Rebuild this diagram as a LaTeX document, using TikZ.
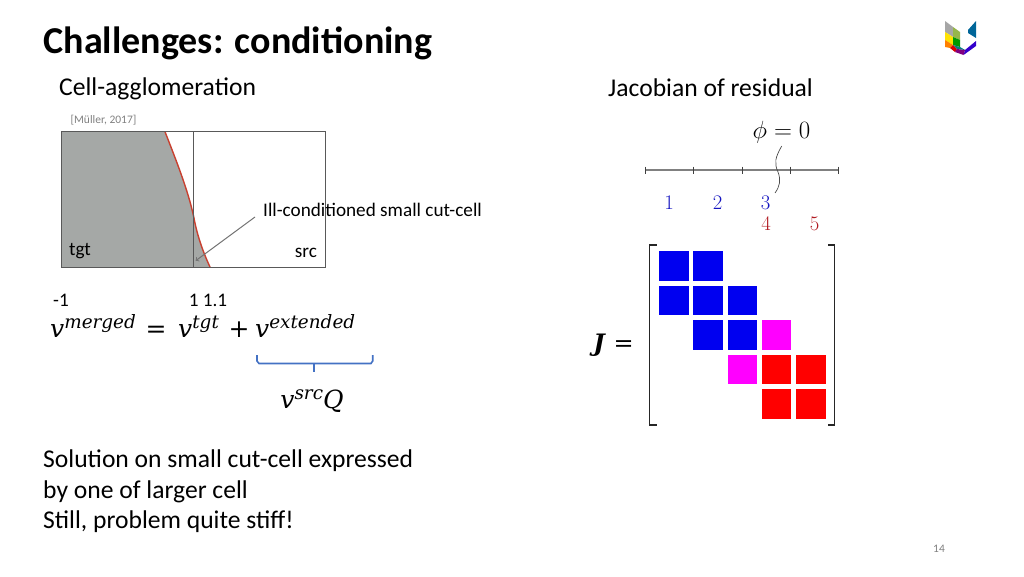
\documentclass[tikz,border=0pt]{standalone}
\usepackage{fontspec}
\usepackage{bm}
\setmainfont{Carlito}
\newfontfamily\eqfont{DejaVu Serif}
\newcommand{\vsup}[1]{\textit{v}\raisebox{8.5pt}{\fontsize{18.4}{18.4}\selectfont\textit{#1}}}
\usetikzlibrary{positioning}
\usetikzlibrary{calc}
\definecolor{cutgrey}{HTML}{A5A8A6}
\definecolor{cutred}{HTML}{C8402F}
\definecolor{bracecol}{HTML}{4472C4}
\definecolor{numblue}{HTML}{1414C0}
\definecolor{numred}{HTML}{B01820}
\definecolor{fadetext}{HTML}{808080}
\definecolor{cellblue}{HTML}{0000F0}
\definecolor{cellred}{HTML}{FF0000}
\definecolor{cellmix}{HTML}{FF00FF}

\begin{document}
\begin{tikzpicture}[x=1pt,y=-1pt,
	txt/.style={inner sep=0pt,font=\fontsize{25.6}{25.6}\selectfont},
	eqn/.style={inner sep=0pt,font=\eqfont\fontsize{25}{25}\selectfont},
	lbl/.style={inner sep=0pt,font=\fontsize{19.2}{19.2}\selectfont},
	num/.style={inner sep=0pt,font=\fontsize{22.5}{22.5}\selectfont},
	cell/.style={rectangle,inner sep=0pt,minimum size=29.5pt},
	brkt/.style={line width=1.6pt,draw=black!85}]
	\useasboundingbox (0,0) rectangle (1024,576);

	\node[inner sep=0pt,anchor=west,font=\fontsize{38}{38}\selectfont\bfseries] (title) at (43.5,43) {Challenges: conditioning};
	\node[txt,anchor=west] (agglo) at (59,89) {Cell-agglomeration};
	\node[txt,anchor=west] (jacobi) at (608,88) {Jacobian of residual};
	\node[inner sep=0pt,text=fadetext,font=\fontsize{11.5}{11.5}\selectfont] (ref) at (103.5,120) {[Müller, 2017]};

	\fill[cutgrey] (61.7,131.7) -- (165,131.7) .. controls (176,160) and (188,190) .. (193.7,216.7) .. controls (197,235) and (203,252) .. (210,267) -- (61.7,267) -- cycle;
	\draw[cutred,line width=1.4pt] (165,131.7) .. controls (176,160) and (188,190) .. (193.7,216.7) .. controls (197,235) and (203,252) .. (210,267);
	\draw[black!65,line width=0.9pt] (193.7,131.7) -- (193.7,267);
	\draw[black!65,line width=0.9pt] (61.7,131.7) rectangle (325.7,267);
	\node[lbl,anchor=center] (tgt) at (80,251) {tgt};
	\node[lbl,anchor=center] (src) at (306,253) {src};
	\node[lbl,anchor=west] (illcond) at (263,210) {Ill-conditioned small cut-cell};
	\coordinate (smallcell) at (195.7,260.7);
	\draw[black!55,line width=1pt,->] (255,217) -- (smallcell);

	\node[lbl] (minusone) at (61,300) {-1};
	\node[lbl] (oneone) at (208,300) {1 1.1};
	\node[eqn,anchor=base west] (merged) at (50,337) {\vsup{merged}};
	\node[eqn,anchor=base] (equals) at (156,337) {=};
	\node[eqn,anchor=base west] (vtgt) at (178,337) {\vsup{tgt}};
	\node[eqn,anchor=base] (plus) at (239,337) {+};
	\node[eqn,anchor=base west] (extended) at (255,337) {\vsup{extended}};
	\node[eqn,anchor=base] (vsrc) at (312,408) {\vsup{src}\textit{Q}};
	\coordinate (bracestem) at (314,371.5);
	\draw[bracecol,line width=1.6pt] (257,355) -- (257,361) -- (259,363.5) -- (371,363.5) -- (372.7,361) -- (372.7,355);
	\draw[bracecol,line width=1.6pt] (314,363.5) -- (bracestem);

	\node[txt,anchor=west] (solone) at (43,461) {Solution on small cut-cell expressed};
	\node[txt,anchor=west] (soltwo) at (43,491.5) {by one of larger cell};
	\node[txt,anchor=west] (solthree) at (43,522) {Still, problem quite stiff!};

	\node[inner sep=0pt,anchor=base,font=\fontsize{24.3}{24.3}\selectfont] (phi) at (781.5,138) {$\phi=0$};
	\draw[black!50,line width=1.4pt] (645.3,170) -- (838.3,170);
	\foreach \tk/\px in {a/645.3,b/693.5,c/742,d/790,e/838.3} {
		\coordinate (tk\tk) at (\px,170);
		\draw[black!75,line width=0.7pt] ($(tk\tk)+(0,-3.5)$) -- ($(tk\tk)+(0,3.5)$);
	}
	\draw[black!70,line width=0.7pt] (781.7,146) .. controls (775,158) and (774,163) .. (778,172) .. controls (781,180) and (780,186) .. (775,193);
	\foreach \nb/\px in {1/669,2/717.5,3/765.5}
		\node[num,text=numblue] (blue\nb) at (\px,203) {$\nb$};
	\foreach \nb/\px in {4/766,5/814.5}
		\node[num,text=numred] (red\nb) at (\px,224) {$\nb$};

	\node[inner sep=0pt,anchor=base,font=\eqfont\fontsize{24}{24}\selectfont] (jeq) at (613.5,351) {\textbf{\textit{J}} =};
	\foreach \rw/\cl/\col in {0/0/cellblue,0/1/cellblue,1/0/cellblue,1/1/cellblue,1/2/cellblue,2/1/cellblue,2/2/cellblue,2/3/cellmix,3/2/cellmix,3/3/cellred,3/4/cellred,4/3/cellred,4/4/cellred}
		\node[cell,fill=\col] (m\rw\cl) at ({673.8+34.3*\cl},{265.8+34.5*\rw}) {};
	\draw[brkt] (656.7,245) -- (649.5,245) -- (649.5,425) -- (656.7,425);
	\draw[brkt] (828,245) -- (834.3,245) -- (834.3,425) -- (828,425);

	\fill[black!35] (945,21) -- (953,27) -- (953,37) -- (945,32) -- cycle;
	\fill[olive!60!green!70] (953,27) -- (960,32) -- (960,40) -- (953,37) -- cycle;
	\fill[yellow!85!orange] (945,32) -- (953,37) -- (953,45) -- (945,40) -- cycle;
	\fill[green!60!black] (953,37) -- (960,40) -- (960,47) -- (953,45) -- cycle;
	\fill[orange] (945,40) -- (953,45) -- (950,48) -- (945,47) -- cycle;
	\fill[red!85!black] (950,48) -- (953,45) -- (957,49) -- (955,52) -- cycle;
	\fill[teal] (953,45) -- (960,47) -- (965,50) -- (957,49) -- cycle;
	\fill[blue!60!violet] (965,50) -- (976,41) -- (976,46) -- (963.5,55) -- cycle;
	\fill[violet] (955,52) -- (957,49) -- (965,50) -- (963.5,55) -- cycle;
	\fill[teal!80!blue] (968,30) -- (976,21) -- (976,38) -- (968,33) -- cycle;

	\node[inner sep=0pt,text=fadetext,font=\fontsize{11.5}{11.5}\selectfont] (pagenum) at (939,549) {14};
\end{tikzpicture}
\end{document}
